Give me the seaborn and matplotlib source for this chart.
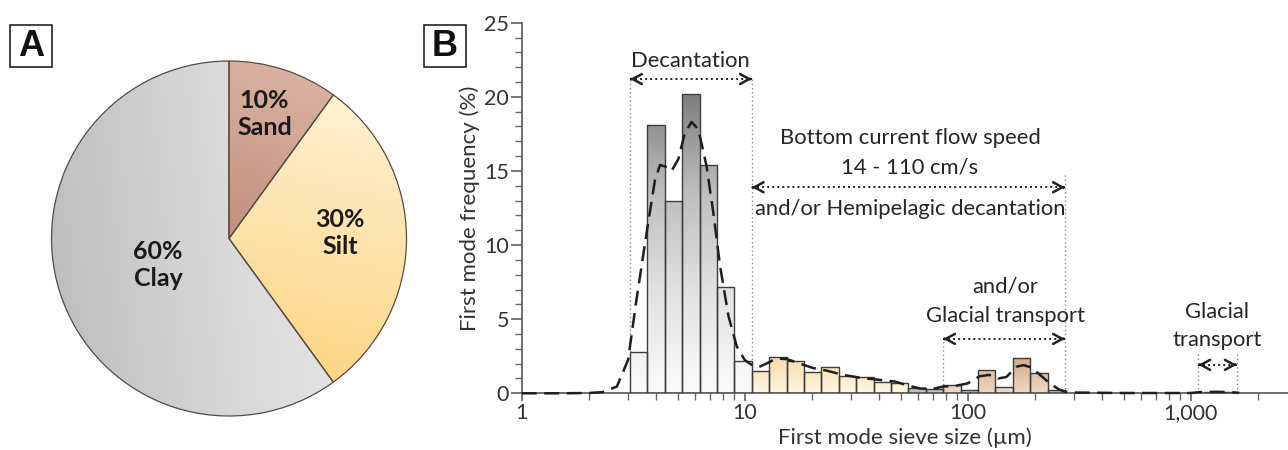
import numpy as np
import matplotlib
matplotlib.use("Agg")
import matplotlib.pyplot as plt
from matplotlib.colors import LinearSegmentedColormap
from matplotlib.patches import Rectangle
from matplotlib.ticker import MultipleLocator, LogLocator, NullFormatter, FixedLocator
import seaborn as sns

# panel A - grain size fractions (%)
fractions = ["Sand", "Silt", "Clay"]
fraction_pct = [10, 30, 60]

# panel B - first mode histogram, bin edges (um) and frequency (%)
bin_edges = [3.06, 3.66, 4.39, 5.25, 6.28, 7.52, 8.99, 10.76, 12.88, 15.42, 18.45,
             22.08, 26.42, 31.62, 37.84, 45.28, 54.19, 64.85, 77.6, 92.9, 111.1,
             133.0, 159.2, 190.5, 228.0, 272.8, 326.5, 390.7, 467.5, 559.5, 669.6,
             801.3, 958.9, 1147.5, 1373.3, 1643.4]
bin_freq = [2.8, 18.1, 13.0, 20.2, 15.4, 7.2, 2.2,
            1.5, 2.45, 2.15, 1.45, 1.75, 1.15, 1.1, 0.75, 0.7,
            0.35, 0.3, 0.55, 0.22, 1.6, 0.45, 2.4, 1.35, 0.2,
            0, 0, 0, 0, 0, 0, 0, 0, 0.07, 0.07]
bin_group = ["clay"] * 7 + ["silt"] * 9 + ["mix", "mix", "sand", "mix", "sand", "sand",
                                            "sand", "sand", "mix"] + ["sand"] * 10

# dashed smoothed curve
kde_x = [1.0, 1.5, 2.0, 2.3, 2.67, 3.0, 3.27, 3.63, 3.96, 4.17, 4.4, 4.7, 5.04, 5.4,
         5.78, 6.2, 6.75, 7.23, 7.76, 8.46, 9.22, 10.0, 10.9, 11.6, 12.5, 13.9, 15.5,
         17.7, 20.3, 23.3, 27.7, 32.8, 40.4, 47.0, 54.3, 61.0, 70.0, 77.3, 88.0, 100,
         113, 125, 137, 149, 166, 178, 194, 211, 233, 256, 274, 300, 500, 1000, 1100,
         1300, 1500, 1640]
kde_y = [0, 0, 0.02, 0.08, 0.45, 2.25, 6.3, 10.8, 14.4, 15.4, 15.3, 15.0, 15.8, 17.6,
         18.3, 17.8, 15.3, 12.2, 8.55, 5.2, 3.15, 2.25, 1.85, 1.78, 2.0, 2.36, 2.3,
         2.0, 1.7, 1.53, 1.24, 1.05, 0.9, 0.8, 0.52, 0.32, 0.3, 0.45, 0.5, 0.67,
         1.15, 1.24, 1.0, 1.1, 1.8, 1.9, 1.73, 1.24, 0.68, 0.27, 0.1, 0.05, 0.02, 0.02,
         0.08, 0.1, 0.08, 0.03]

sns.set_theme(style="ticks")
plt.rcParams["font.family"] = ["Lato", "DejaVu Sans"]

W, H = 1288, 450
fig = plt.figure(figsize=(W / 100, H / 100), dpi=100)
fig.patch.set_facecolor("white")

# ---------- panel A: pie ----------
cx, cy, r = 229, 238.5, 177.5
ax1 = fig.add_axes([(cx - r) / W, (H - cy - r) / H, 2 * r / W, 2 * r / H])
wedges, _ = ax1.pie(fraction_pct, startangle=90, counterclock=False,
                    wedgeprops=dict(edgecolor="#5a4a42", linewidth=0.9, facecolor="none"))
ax1.set_xlim(-1, 1)
ax1.set_ylim(-1, 1)
ax1.axis("off")

gx, gy = np.meshgrid(np.linspace(-1, 1, 300), np.linspace(1, -1, 300))
pie_grad = {
    "Sand": (("#a4634d", "#dfbcac"), 0.35 * gx + gy),
    "Silt": (("#fbcd6c", "#fff5df"), 0.2 * gx + gy),
    "Clay": (("#bcbcbc", "#dadada", "#ebebeb"), gx + 0.1 * gy),
}
for w, name in zip(wedges, fractions):
    cols, field = pie_grad[name]
    cmap = LinearSegmentedColormap.from_list(name, cols)
    im = ax1.imshow(field, extent=[-1, 1, -1, 1], cmap=cmap, zorder=0.5,
                    vmin=field.min(), vmax=field.max(), aspect="auto")
    im.set_clip_path(w)
    w.set_zorder(2)

pie_lbl = {"Sand": (0.2, 0.70), "Silt": (0.625, 0.03), "Clay": (-0.4, -0.15)}
for name, p in zip(fractions, fraction_pct):
    x, y = pie_lbl[name]
    ax1.text(x, y, f"{p}%\n{name}", ha="center", va="center", fontsize=18,
             fontweight="bold", color="#1a1a1a", linespacing=1.2, zorder=3)

# ---------- panel B: histogram ----------
x0px, y0px, y25px = 521.7, 393.3, 22.7
xmax = 10 ** ((W - x0px) / 223.0)
ax = fig.add_axes([x0px / W, (H - y0px) / H, (W - x0px) / W, (y0px - y25px) / H])
ax.set_xscale("log")
ax.set_xlim(1, xmax)
ax.set_ylim(0, 25)

grad_cols = {
    "clay": (("#fbfbfb", "#e2e2e2", "#bdbdbd", "#7a7a7a"), 20.5),
    "silt": (("#fff6e2", "#f6d595"), 3.0),
    "sand": (("#efd8c2", "#cc9f7c"), 3.0),
    "mix": (("#c9c3bd", "#aaa29a"), 1.0),
}
yy = np.linspace(0, 25, 400)[::-1].reshape(-1, 1)
for lo, hi, h, g in zip(bin_edges[:-1], bin_edges[1:], bin_freq, bin_group):
    if h <= 0:
        continue
    bar = ax.bar(lo, h, width=hi - lo, align="edge", facecolor="none",
                 edgecolor="#3d3d3d", linewidth=1.0, zorder=3)[0]
    cols, ytop = grad_cols[g]
    cmap = LinearSegmentedColormap.from_list(g, cols)
    im = ax.imshow(np.clip(yy / ytop, 0, 1), extent=[0, 1, 0, 1], transform=ax.transAxes,
                   cmap=cmap, vmin=0, vmax=1, aspect="auto", zorder=2)
    im.set_clip_path(bar)

sns.lineplot(x=kde_x, y=kde_y, ax=ax, color="#1e1e1e", linewidth=1.8,
             linestyle=(0, (6, 3)), zorder=5, clip_on=False)

# annotation spans
def span(xa, xb, y, ytop_a, ytop_b):
    ax.plot([xa, xb], [y, y], ls=(0, (1, 1.6)), color="#222222", lw=1.4, zorder=4)
    for x, d in ((xa, 1), (xb, -1)):
        ax.annotate("", xy=(x, y), xytext=(d * 1.0, 0), textcoords="offset points",
                    arrowprops=dict(arrowstyle="->,head_length=0.55,head_width=0.3",
                                    lw=1.8, color="#222222", shrinkA=0, shrinkB=0))
    for x, t in ((xa, ytop_a), (xb, ytop_b)):
        if t is not None:
            ax.plot([x, x], [0, t], ls=(0, (1, 2)), color="#8a8a8a", lw=1.0, zorder=1)

span(3.06, 10.76, 21.2, 21.2, 21.2)
span(10.76, 272.8, 13.9, None, 14.8)
span(77.6, 272.8, 3.67, 3.67, None)
span(1082, 1608, 1.92, 2.7, 2.7)

txt = dict(ha="center", va="center", fontsize=15.8, color="#262626")
ax.text(5.68, 22.4, "Decantation", **txt)
ax.text(55.1, 17.2, "Bottom current flow speed", **txt)
ax.text(55.1, 15.2, "14 - 110 cm/s", **txt)
ax.text(55.1, 12.4, "and/or Hemipelagic decantation", **txt)
ax.text(147, 7.2, "and/or", **txt)
ax.text(147, 5.2, "Glacial transport", **txt)
ax.text(1313, 5.5, "Glacial", **txt)
ax.text(1313, 3.6, "transport", **txt)

sns.despine(ax=ax)
for s in ("left", "bottom"):
    ax.spines[s].set_color("#555555")
    ax.spines[s].set_linewidth(1.2)
ax.set_xticks([1, 10, 100, 1000])
ax.set_xticklabels(["1", "10", "100", "1,000"])
ax.xaxis.set_minor_locator(LogLocator(base=10, subs=np.arange(2, 10), numticks=20))
ax.xaxis.set_minor_formatter(NullFormatter())
ax.yaxis.set_major_locator(FixedLocator([0, 5, 10, 15, 20, 25]))
ax.yaxis.set_minor_locator(MultipleLocator(1))
ax.tick_params(axis="y", which="major", direction="out", length=8, width=1.1,
               color="#555555", labelsize=15.5, labelcolor="#333333", pad=1)
ax.tick_params(axis="x", which="major", direction="out", length=6, width=1.1,
               color="#555555", labelsize=15.5, labelcolor="#333333", pad=1)
ax.tick_params(axis="both", which="minor", direction="out", length=5, width=1.0,
               color="#666666")
ax.set_xlabel("First mode sieve size (µm)", fontsize=16, color="#333333", labelpad=3)
ax.set_ylabel("First mode frequency (%)", fontsize=16, color="#333333", labelpad=3)
ax.set_facecolor("none")
ax.grid(False)

# panel letters
for letter, (bx, by) in (("A", (10, 25)), ("B", (424, 25))):
    fig.add_artist(Rectangle((bx / W, (H - by - 42) / H), 42 / W, 42 / H,
                             transform=fig.transFigure, facecolor="white",
                             edgecolor="#111111", lw=1.1))
    fig.text((bx + 21) / W, (H - by - 21) / H, letter, ha="center", va="center",
             fontsize=26, fontweight="bold", family=["Liberation Sans", "DejaVu Sans"],
             color="#111111")

fig.savefig("out.png", dpi=100)
